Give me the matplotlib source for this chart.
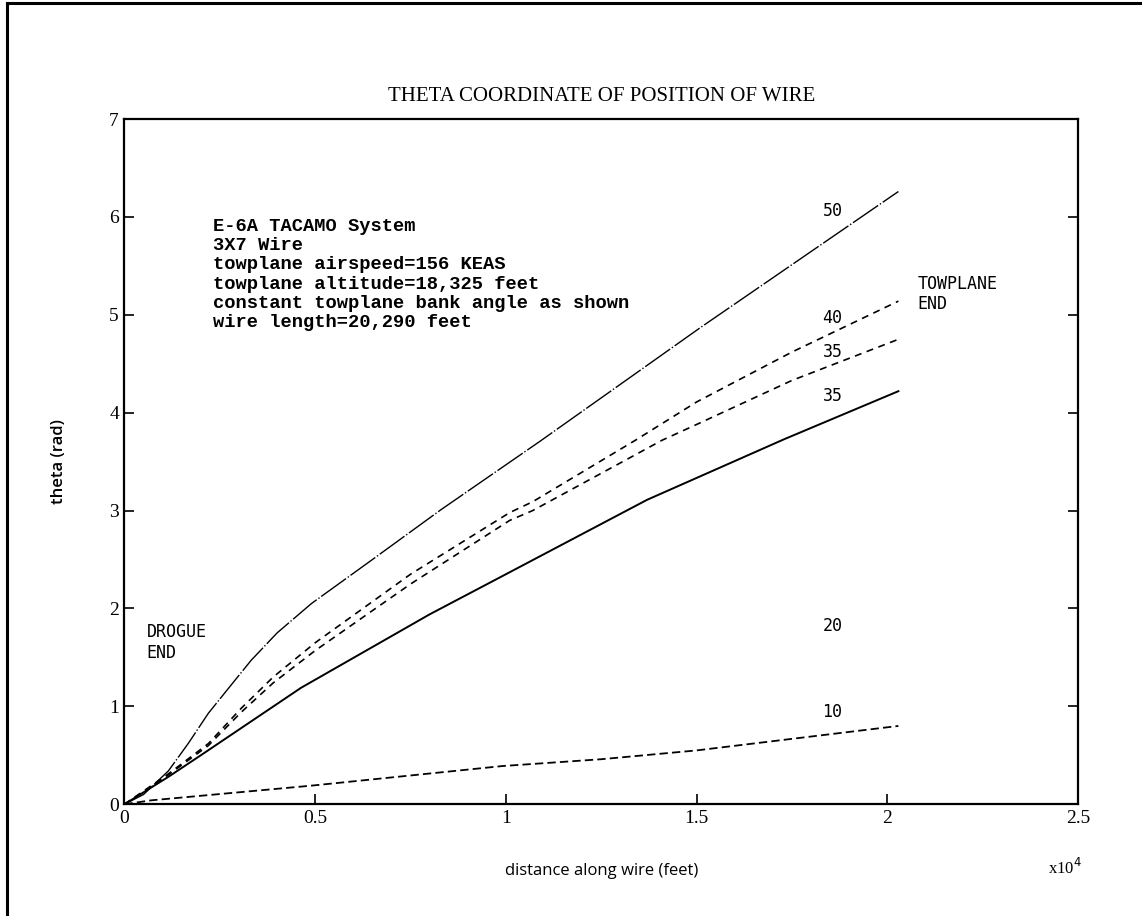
import matplotlib
matplotlib.use("Agg")
import matplotlib.pyplot as plt
from matplotlib.ticker import FuncFormatter, FixedLocator

# ---- data (distance along wire in feet, theta in rad) ----
bank_angles = ["50", "40", "35", "35", "10"]

x_50 = [0, 500, 1150, 1670, 2200, 2800, 3320, 4000, 4900, 6500, 8300, 10900, 15100, 20290]
y_50 = [0, 0.10, 0.34, 0.62, 0.93, 1.22, 1.47, 1.75, 2.05, 2.50, 3.01, 3.71, 4.87, 6.26]

x_40 = [0, 1150, 2200, 3060, 3900, 5000, 7500, 10100, 10700, 13400, 15000, 17500, 20290]
y_40 = [0, 0.31, 0.62, 0.98, 1.30, 1.65, 2.35, 2.98, 3.09, 3.72, 4.11, 4.62, 5.14]

x_35d = [0, 1150, 2200, 3060, 3900, 5000, 7500, 10100, 10700, 14100, 15000, 17500, 20290]
y_35d = [0, 0.30, 0.60, 0.94, 1.24, 1.57, 2.25, 2.90, 3.00, 3.72, 3.88, 4.33, 4.75]

x_35s = [0, 1150, 2000, 4630, 8000, 10000, 13700, 17300, 20290]
y_35s = [0, 0.28, 0.50, 1.19, 1.94, 2.35, 3.11, 3.73, 4.22]

x_10 = [0, 700, 4900, 9900, 12500, 15000, 20290]
y_10 = [0, 0.04, 0.19, 0.39, 0.46, 0.55, 0.80]

x_ticks = [0, 5000, 10000, 15000, 20000, 25000]
y_ticks = [0, 1, 2, 3, 4, 5, 6, 7]

info_lines = [
    "E-6A TACAMO System",
    "3X7 Wire",
    "towplane airspeed=156 KEAS",
    "towplane altitude=18,325 feet",
    "constant towplane bank angle as shown",
    "wire length=20,290 feet",
]

plt.rcParams["lines.scale_dashes"] = False
serif = ["Liberation Serif", "DejaVu Serif"]
sans = ["Open Sans", "DejaVu Sans"]
mono = ["DejaVu Sans Mono"]
mono_bold = ["Liberation Mono", "DejaVu Sans Mono"]

fig = plt.figure(figsize=(11.42, 9.16), dpi=100)
ax = fig.add_axes([0.109, 0.122, 0.835, 0.748])

ax.plot(x_50, y_50, color="black", lw=1.0, linestyle=(0, (22, 1.5, 1, 1.5)))
ax.plot(x_40, y_40, color="black", lw=1.2, linestyle=(0, (5, 4)))
ax.plot(x_35d, y_35d, color="black", lw=1.2, linestyle=(0, (5, 4)))
ax.plot(x_35s, y_35s, color="black", lw=1.4, linestyle="-")
ax.plot(x_10, y_10, color="black", lw=1.3, linestyle=(0, (6, 3)))

ax.set_xlim(0, 25000)
ax.set_ylim(0, 7)
ax.xaxis.set_major_locator(FixedLocator(x_ticks))
ax.yaxis.set_major_locator(FixedLocator(y_ticks))
ax.xaxis.set_major_formatter(FuncFormatter(lambda v, p: f"{v/1e4:g}"))
ax.tick_params(direction="in", length=7, width=1.2, top=False, right=True,
               labelsize=14, pad=4)
for lab in ax.get_xticklabels() + ax.get_yticklabels():
    lab.set_family(serif)
for s in ax.spines.values():
    s.set_linewidth(1.6)

ax.set_title("THETA COORDINATE OF POSITION OF WIRE", family=serif, fontsize=15, pad=13)
ax.set_xlabel("distance along wire (feet)", family=sans, fontsize=12, labelpad=26)
ax.set_ylabel("theta (rad)", family=sans, fontsize=12, fontweight="semibold", labelpad=30)
fig.text(0.918, 0.053, "x10$^4$", family=serif, fontsize=12, ha="left", va="center")

# info block
for i, line in enumerate(info_lines):
    ax.text(2330, 5.90 - 0.195 * i, line, family=mono_bold, fontweight="bold",
            fontsize=13.5, va="center", ha="left")

# curve labels
label_pos = [(18300, 6.06), (18300, 4.97), (18300, 4.62), (18300, 4.17), (18300, 0.94)]
for (lx, ly), t in zip(label_pos, bank_angles):
    ax.text(lx, ly, t, family=mono, fontsize=12, va="center", ha="left")
ax.text(18300, 1.82, "20", family=mono, fontsize=12, va="center", ha="left")
ax.text(20800, 5.31, "TOWPLANE", family=mono, fontsize=12, va="center", ha="left")
ax.text(20800, 5.11, "END", family=mono, fontsize=12, va="center", ha="left")
ax.text(580, 1.76, "DROGUE", family=mono, fontsize=12, va="center", ha="left")
ax.text(580, 1.55, "END", family=mono, fontsize=12, va="center", ha="left")

# outer frame (left and top edges of the scanned page)
fig.add_artist(plt.Line2D([0.006, 0.006], [0.0, 0.997], color="black", lw=2.2,
                          transform=fig.transFigure))
fig.add_artist(plt.Line2D([0.006, 1.0], [0.997, 0.997], color="black", lw=2.2,
                          transform=fig.transFigure))

fig.savefig("out.png", dpi=100)
